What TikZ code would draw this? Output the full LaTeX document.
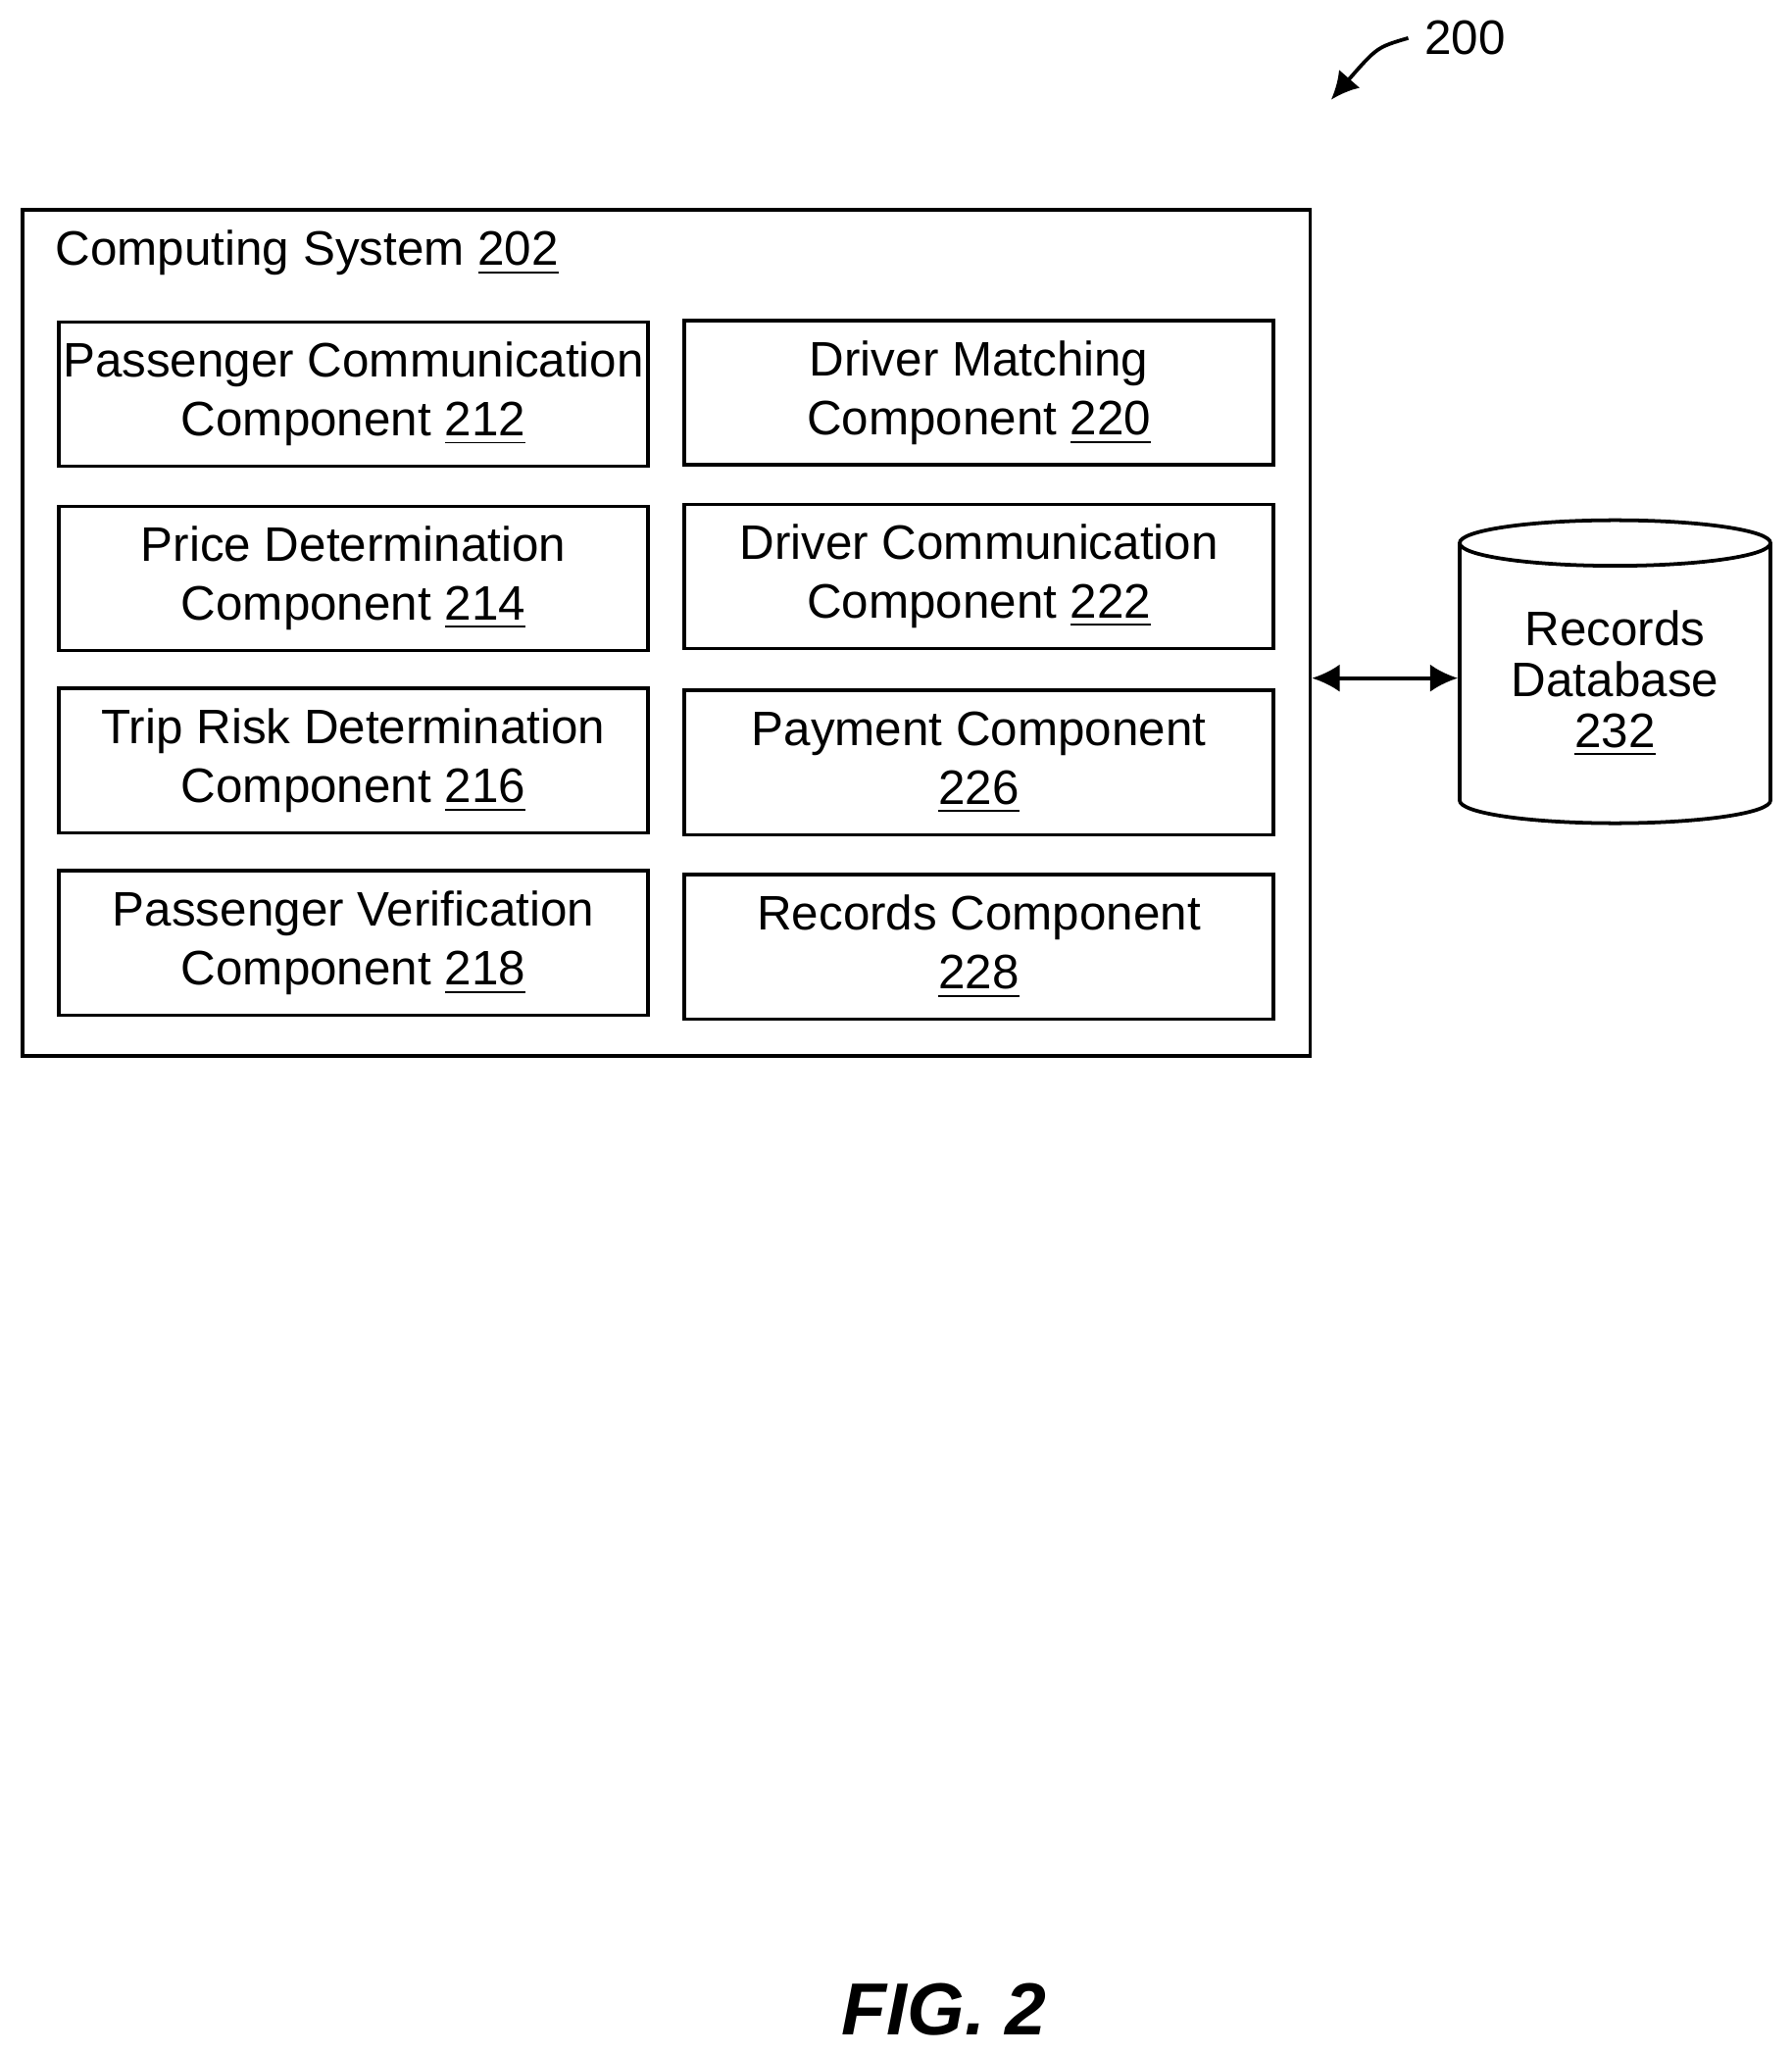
\documentclass[tikz,border=0pt]{standalone}
\usepackage{fontspec}
\setmainfont{Liberation Sans}
\usetikzlibrary{shapes.geometric,arrows.meta}
\tikzset{
  comp/.style={draw, thick, minimum width=4.49cm, minimum height=1.10cm, align=center,
    font=\fontsize{10.5}{12.8}\selectfont, inner sep=0pt},
  db/.style={draw, thick, cylinder, shape border rotate=90, aspect=0.22,
    minimum width=2.37cm, minimum height=2.31cm, align=center,
    font=\fontsize{10.5}{11}\selectfont, inner sep=0pt},
  link/.style={thick, {Latex[length=6pt,width=6pt]}-{Latex[length=6pt,width=6pt]}}
}
\begin{document}
\begin{tikzpicture}
\useasboundingbox (0,0) rectangle (13.66,-15.66);

\node[draw, thick, minimum width=9.82cm, minimum height=6.45cm, inner sep=0pt] (sys) at (5.08,-4.825) {};
\node[anchor=west, font=\fontsize{10.5}{12.8}\selectfont] (systitle) at (0.30,-1.93) {Computing System \underline{202}};

\node[comp] (c212) at (2.695,-3.005) {Passenger Communication\\Component \underline{212}};
\node[comp] (c214) at (2.695,-4.41) {Price Determination\\Component \underline{214}};
\node[comp] (c216) at (2.695,-5.80) {Trip Risk Determination\\Component \underline{216}};
\node[comp] (c218) at (2.695,-7.19) {Passenger Verification\\Component \underline{218}};

\node[comp] (c220) at (7.465,-2.995) {Driver Matching\\Component \underline{220}};
\node[comp] (c222) at (7.465,-4.395) {Driver Communication\\Component \underline{222}};
\node[comp] (c226) at (7.465,-5.815) {Payment Component\\\underline{226}};
\node[comp] (c228) at (7.465,-7.22) {Records Component\\\underline{228}};

\node[db] (rdb) at (12.315,-5.215) {Records\\Database\\\underline{232}};

\draw[link] (sys.east |- 0,-5.17) -- (rdb.west |- 0,-5.17);

% figure number
\node[font=\fontsize{10.5}{12.8}\selectfont] (num) at (11.17,-0.29) {200};
\coordinate (numtip) at (10.15,-0.76);
\draw[thick, -{Latex[length=6pt,width=6pt]}] (num.west) .. controls (10.5,-0.36) .. (numtip);

\node[font=\fontsize{16}{18}\selectfont\bfseries\itshape] (fig) at (7.20,-15.32) {FIG. 2};
\end{tikzpicture}
\end{document}
